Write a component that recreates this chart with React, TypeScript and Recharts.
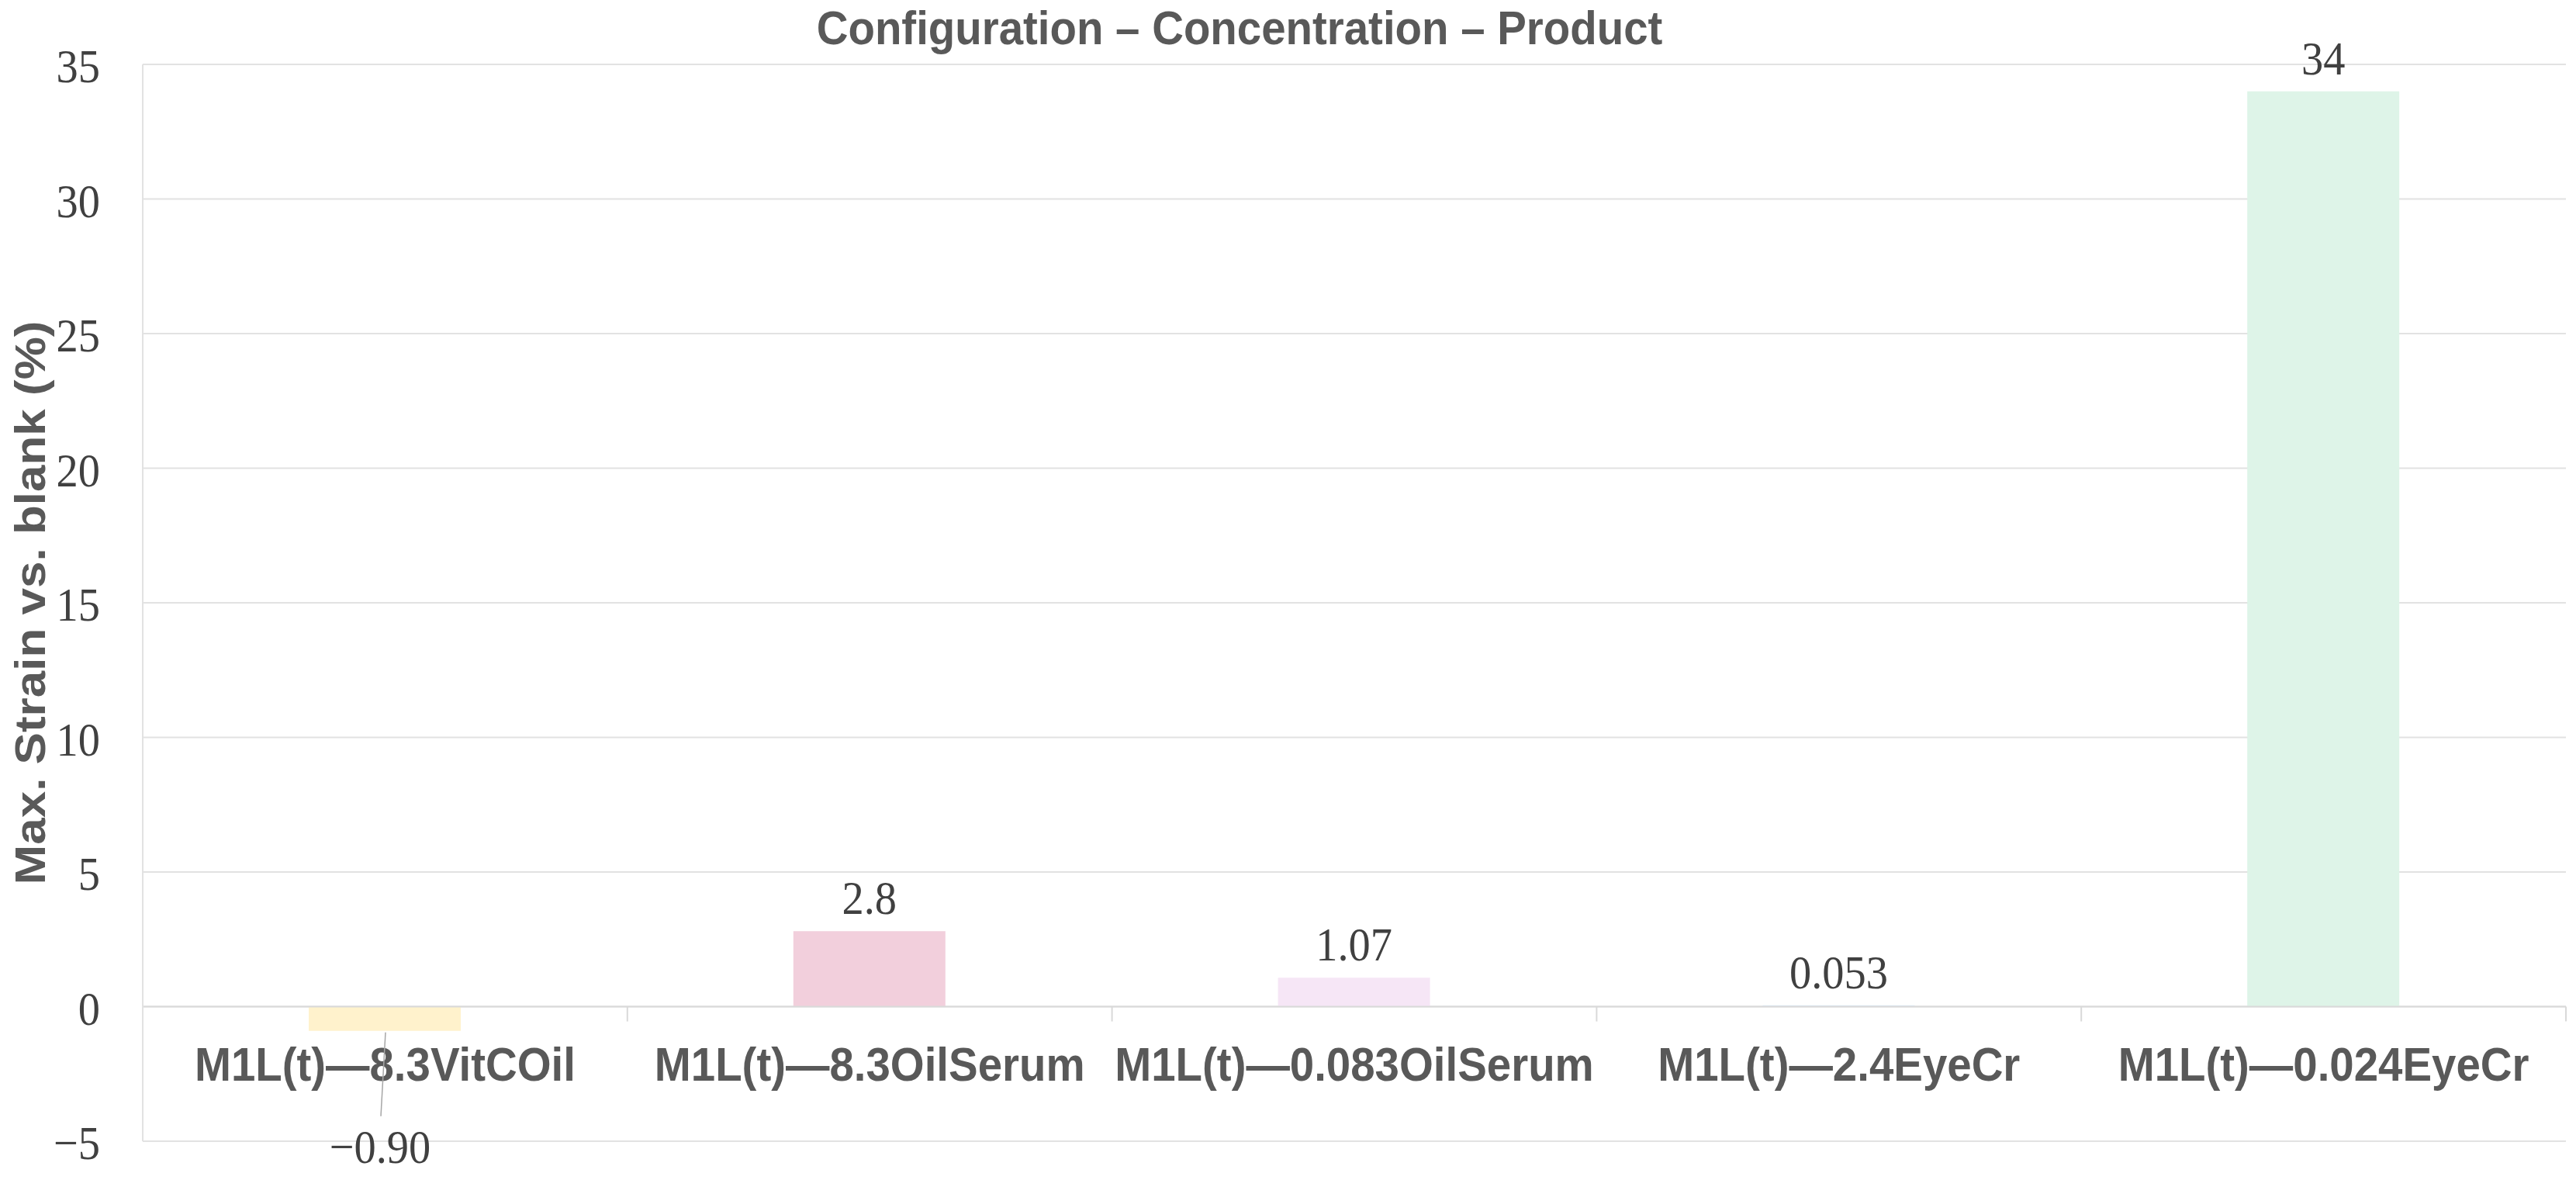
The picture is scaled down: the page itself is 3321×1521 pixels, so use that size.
import { BarChart, Bar, XAxis, YAxis, CartesianGrid, Cell, LabelList, ReferenceLine } from 'recharts'

const categories = [
  'M1L(t)—8.3VitCOil',
  'M1L(t)—8.3OilSerum',
  'M1L(t)—0.083OilSerum',
  'M1L(t)—2.4EyeCr',
  'M1L(t)—0.024EyeCr',
]
const strainValues = [-0.9, 2.8, 1.07, 0.053, 34]
const valueLabels = ['−0.90', '2.8', '1.07', '0.053', '34']
const barColors = ['#fff2cc', '#f2cfdc', '#f6e6f6', '#ddebf7', '#def4e8']
const yTicks = [-5, 0, 5, 10, 15, 20, 25, 30, 35]

const chartTitle = 'Configuration – Concentration – Product'
const yTitle = 'Max. Strain vs. blank (%)'

const data = categories.map((name, i) => ({ name, value: strainValues[i] }))

const W = 3321
const H = 1521
const SQ = 0.91 // the source figure is slightly squeezed horizontally
const sans = '"Liberation Sans", Arial, Helvetica, sans-serif'
const serif = '"Liberation Serif", "Times New Roman", serif'
const gridColor = '#e2e2e2'
const tickLen = -0.55 // boundary tick length in axis units

const yFormatter = (v: number) => (v < 0 ? `−${Math.abs(v)}` : `${v}`)

// text drawn with the same horizontal squeeze as the reference
function SqText({ x, y, anchor = 'middle', children, ...rest }: any) {
  return (
    <text transform={`translate(${x} ${y}) scale(${SQ} 1)`} textAnchor={anchor} {...rest}>
      {children}
    </text>
  )
}

const CategoryTick = (props: any) => {
  const { x, y, payload } = props
  return (
    <SqText x={x} y={y - 78} fontFamily={sans} fontSize={62} fontWeight="bold" fill="#595959">
      {payload.value}
    </SqText>
  )
}

const ValueTick = (props: any) => {
  const { x, y, payload } = props
  return (
    <SqText x={x} y={y + 23} anchor="end" fontFamily={serif} fontSize={62} fill="#404040">
      {yFormatter(payload.value)}
    </SqText>
  )
}

const renderValueLabel = (props: any) => {
  const vb = props.viewBox ?? props
  const { x, y, width, height } = vb
  const index = props.index as number
  const cx = x + width / 2
  const top = Math.min(y, y + height)
  const bottom = Math.max(y, y + height)
  const txt = valueLabels[index]
  if (strainValues[index] < 0) {
    // label dragged below the axis, joined to its bar by a leader line
    return (
      <g>
        <line x1={cx + 1} y1={bottom + 2} x2={cx - 5} y2={bottom + 110} stroke="#a6a6a6" strokeWidth={1.5} />
        <SqText x={cx - 6} y={bottom + 170} fontFamily={serif} fontSize={62} fill="#404040">
          {txt}
        </SqText>
      </g>
    )
  }
  return (
    <SqText x={cx} y={top - 22} fontFamily={serif} fontSize={62} fill="#404040">
      {txt}
    </SqText>
  )
}

export default function App() {
  const last = categories[categories.length - 1]
  return (
    <div style={{ position: 'relative', width: W, height: H, background: '#fff' }}>
      <style>{'body{margin:0}'}</style>
      <BarChart width={W} height={H} data={data} margin={{ top: 83, right: 13, bottom: 0, left: 0 }} barSize={196}>
        <CartesianGrid vertical={false} stroke={gridColor} strokeWidth={2} />
        <XAxis
          dataKey="name"
          height={50}
          axisLine={false}
          tickLine={false}
          tickSize={0}
          tickMargin={0}
          interval={0}
          tick={<CategoryTick />}
        />
        <YAxis
          width={184}
          domain={[-5, 35]}
          ticks={yTicks}
          interval={0}
          axisLine={{ stroke: gridColor, strokeWidth: 2 }}
          tickLine={false}
          tickSize={0}
          tickMargin={55}
          tick={<ValueTick />}
        />
        <ReferenceLine y={0} stroke="#d9d9d9" strokeWidth={2} />
        {categories.map((c) => (
          <ReferenceLine
            key={c}
            segment={[{ x: c, y: 0 }, { x: c, y: tickLen }]}
            position="start"
            stroke="#d9d9d9"
            strokeWidth={2}
          />
        ))}
        <ReferenceLine
          segment={[{ x: last, y: 0 }, { x: last, y: tickLen }]}
          position="end"
          stroke="#d9d9d9"
          strokeWidth={2}
        />
        <Bar dataKey="value" isAnimationActive={false}>
          {data.map((d, i) => (
            <Cell key={d.name} fill={barColors[i]} />
          ))}
          <LabelList dataKey="value" content={renderValueLabel} />
        </Bar>
      </BarChart>
      <svg width={W} height={H} style={{ position: 'absolute', left: 0, top: 0, pointerEvents: 'none' }}>
        <SqText x={1598} y={57} fontFamily={sans} fontSize={62} fontWeight="bold" fill="#595959">
          {chartTitle}
        </SqText>
        <text
          transform={`translate(58 777) scale(${SQ} 1) rotate(-90)`}
          textAnchor="middle"
          fontFamily={sans}
          fontSize={62}
          fontWeight="bold"
          fill="#595959"
        >
          {yTitle}
        </text>
      </svg>
    </div>
  )
}
